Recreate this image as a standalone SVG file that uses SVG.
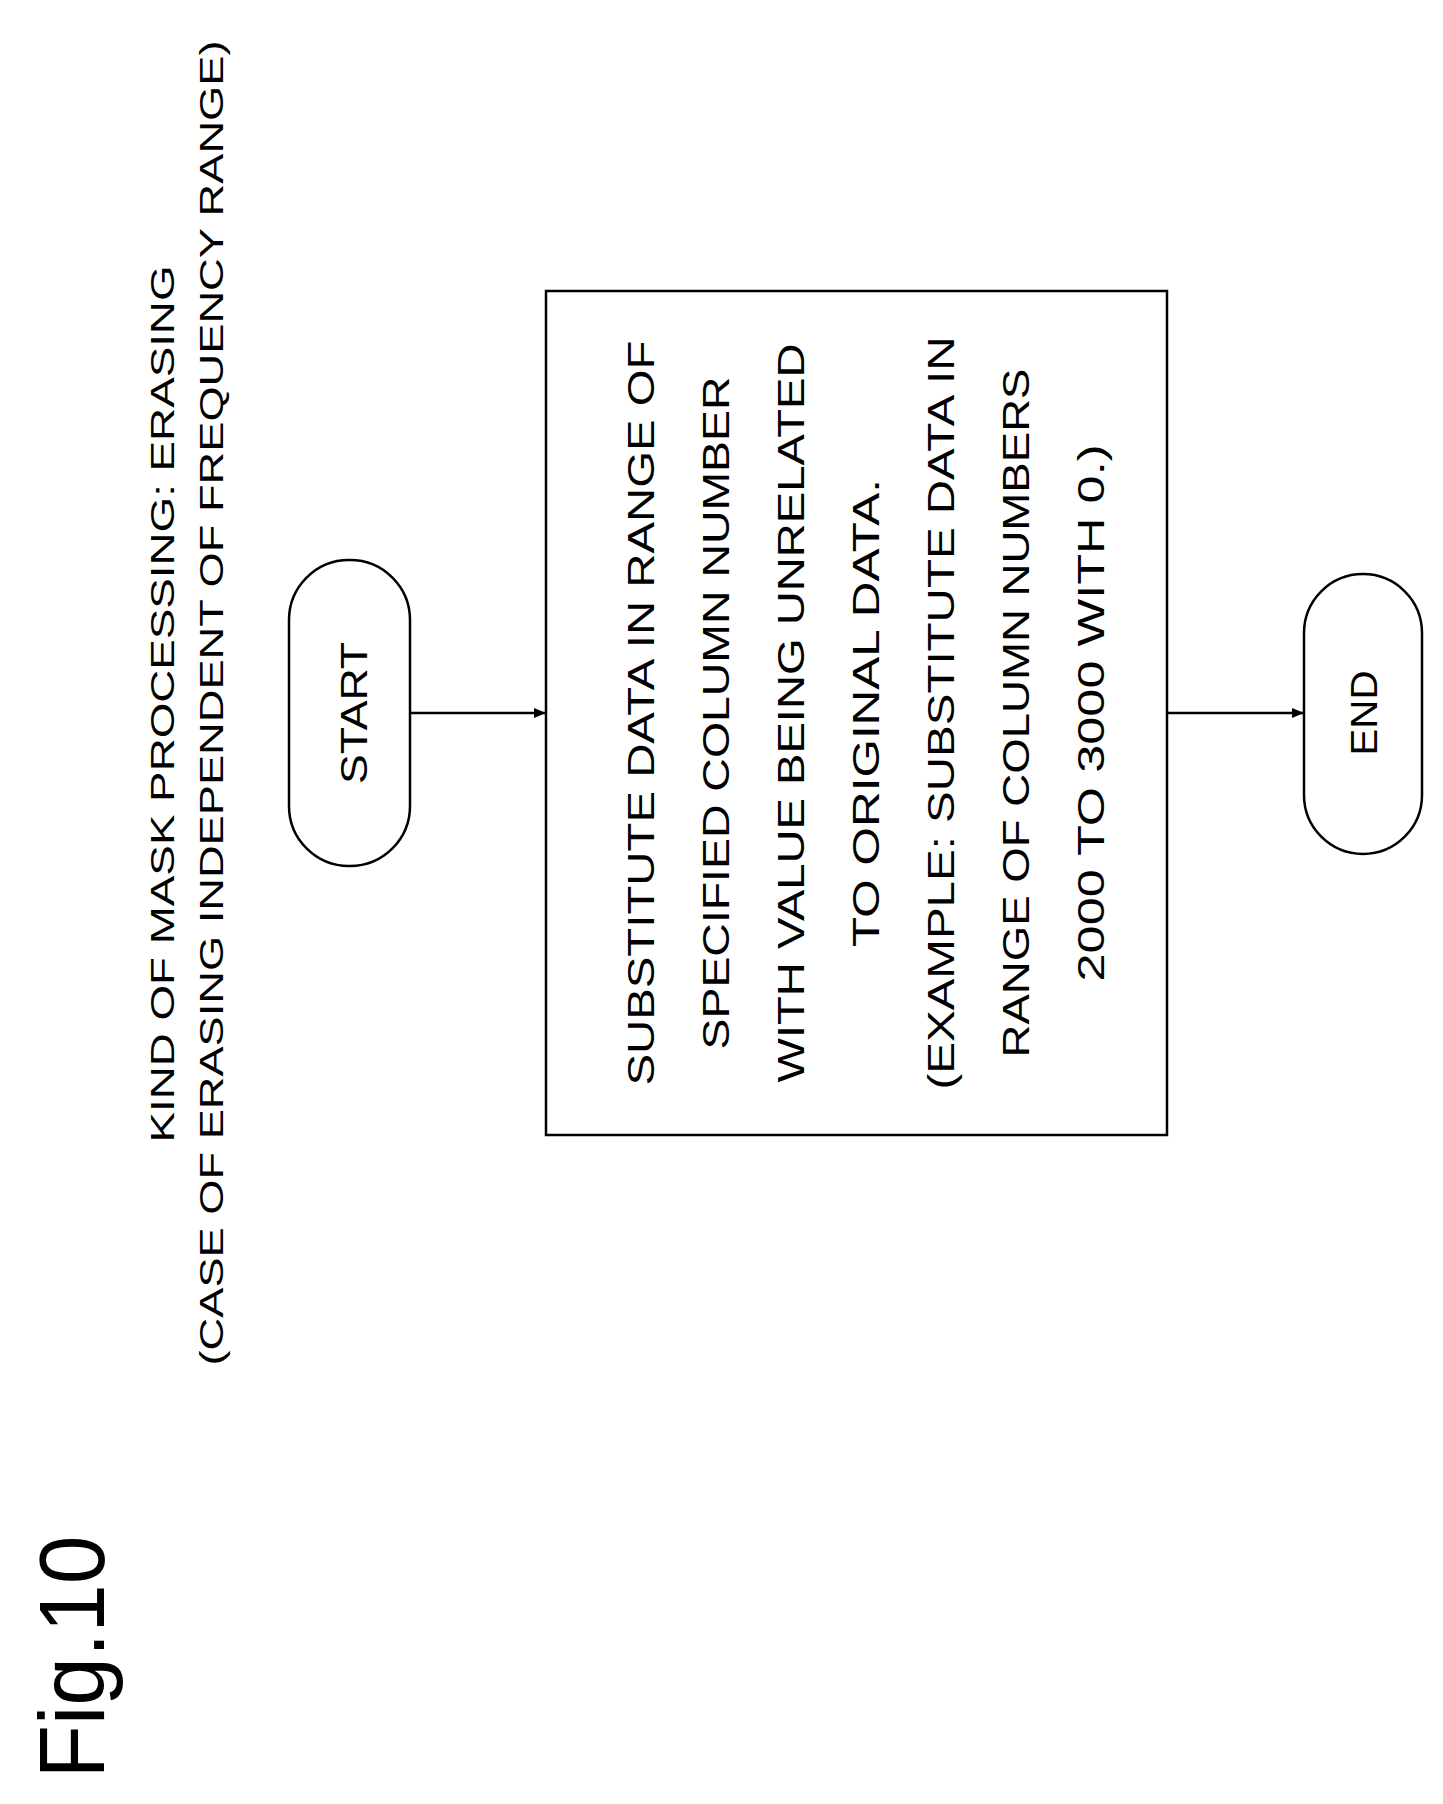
<svg xmlns="http://www.w3.org/2000/svg" width="1443" height="1804" viewBox="0 0 1443 1804">
<style>
text{font-family:"Liberation Sans",Arial,sans-serif;fill:#000;text-anchor:middle;dominant-baseline:central}
.t{font-size:34px}.b{font-size:37px}
.shape{fill:#fff;stroke:#000;stroke-width:2.5}
.conn{stroke:#000;stroke-width:2.5;fill:none;marker-end:url(#ah)}
</style>
<defs><marker id="ah" markerWidth="12" markerHeight="10" refX="12" refY="5" orient="auto" markerUnits="userSpaceOnUse"><path d="M0,0 L12,5 L0,10 Z" fill="#000"/></marker></defs>
<rect width="1443" height="1804" fill="#fff"/>
<g id="fig"><text transform="translate(72,1657) rotate(-90)" style="font-size:92px" textLength="243" lengthAdjust="spacingAndGlyphs">Fig.10</text></g>
<g id="title">
<text class="t" transform="translate(162,704) rotate(-90)" textLength="877" lengthAdjust="spacingAndGlyphs">KIND OF MASK PROCESSING: ERASING</text>
<text class="t" transform="translate(211,703) rotate(-90)" textLength="1325" lengthAdjust="spacingAndGlyphs">(CASE OF ERASING INDEPENDENT OF FREQUENCY RANGE)</text>
</g>
<g id="start"><rect class="shape" x="289" y="560" width="121" height="306" rx="60"/><text class="b" transform="translate(354,713) rotate(-90)" textLength="142" lengthAdjust="spacingAndGlyphs">START</text></g>
<g id="process"><rect class="shape" x="546" y="291" width="621" height="844"/>
<text class="b" transform="translate(641,713) rotate(-90)" textLength="745" lengthAdjust="spacingAndGlyphs">SUBSTITUTE DATA IN RANGE OF</text>
<text class="b" transform="translate(716,713) rotate(-90)" textLength="673" lengthAdjust="spacingAndGlyphs">SPECIFIED COLUMN NUMBER</text>
<text class="b" transform="translate(791,713) rotate(-90)" textLength="739" lengthAdjust="spacingAndGlyphs">WITH VALUE BEING UNRELATED</text>
<text class="b" transform="translate(866,713) rotate(-90)" textLength="468" lengthAdjust="spacingAndGlyphs">TO ORIGINAL DATA.</text>
<text class="b" transform="translate(941,713) rotate(-90)" textLength="753" lengthAdjust="spacingAndGlyphs">(EXAMPLE: SUBSTITUTE DATA IN</text>
<text class="b" transform="translate(1016,713) rotate(-90)" textLength="689" lengthAdjust="spacingAndGlyphs">RANGE OF COLUMN NUMBERS</text>
<text class="b" transform="translate(1091,713) rotate(-90)" textLength="537" lengthAdjust="spacingAndGlyphs">2000 TO 3000 WITH 0.)</text>
</g>
<g id="end"><rect class="shape" x="1304" y="574" width="118" height="280" rx="59"/><text class="b" transform="translate(1364,713) rotate(-90)" textLength="85" lengthAdjust="spacingAndGlyphs">END</text></g>
<g id="connectors"><line class="conn" x1="410" y1="713" x2="546" y2="713"/><line class="conn" x1="1167" y1="713" x2="1304" y2="713"/></g>
</svg>
